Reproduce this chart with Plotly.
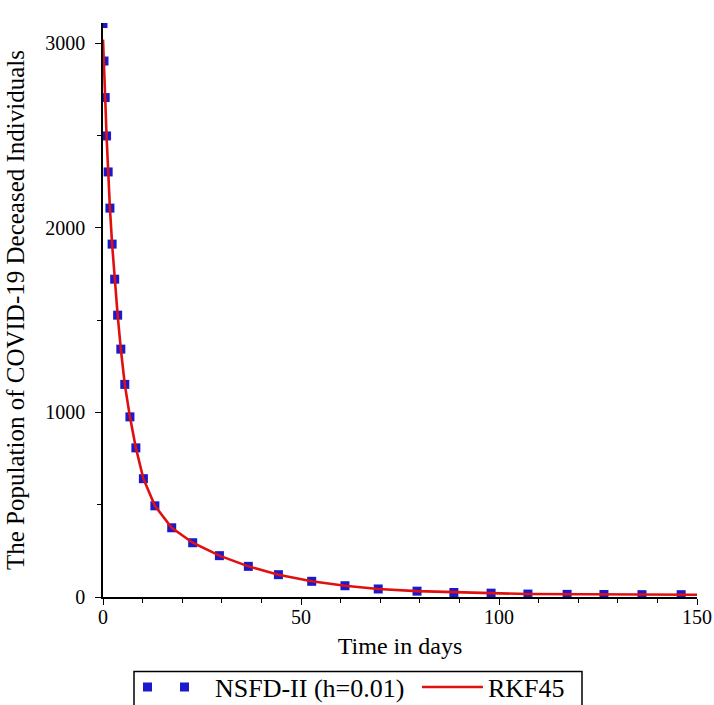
import plotly.graph_objects as go

# NSFD-II (h=0.01) square points (t in days, deceased)
nsfd_t = [0, 0.25, 0.55, 0.9, 1.3, 1.75, 2.3, 2.95, 3.7, 4.5, 5.5, 6.8, 8.3, 10.2,
          13.1, 17.35, 22.65, 29.4, 36.7, 44.3, 52.7, 61.1, 69.5, 79.3, 88.6,
          98.0, 107.3, 117.2, 126.5, 136.1, 146.0]
nsfd_v = [3107, 2904, 2706, 2498, 2303, 2107, 1912, 1722, 1527, 1343, 1152, 976, 808, 641,
          494, 375, 294, 224, 166, 121, 85, 61, 43.5, 31.6, 24.5,
          20.8, 16, 14.3, 13.7, 12.6, 12.5]

# RKF45 curve
rkf_t = [0, 0.25, 0.55, 0.9, 1.3, 1.75, 2.3, 2.95, 3.7, 4.5, 5.5, 6.8, 8.3, 10.2,
         13.1, 17.35, 22.65, 29.4, 36.7, 44.3, 52.7, 61.1, 69.5, 79.3, 88.6,
         98.0, 107.3, 117.2, 126.5, 136.1, 146.0, 150]
rkf_v = [3020, 2904, 2706, 2498, 2303, 2107, 1912, 1722, 1527, 1343, 1152, 976, 808, 641,
         494, 375, 294, 224, 166, 121, 85, 61, 43.5, 31.6, 24.5,
         20.8, 16, 14.3, 13.7, 12.6, 12.5, 12.5]

x_ticks = [0, 50, 100, 150]
y_ticks = [0, 1000, 2000, 3000]

BLUE = "#1a1acc"
RED = "#e01010"
SERIF = "Liberation Serif, Times New Roman, serif"

fig = go.Figure()
fig.add_trace(go.Scatter(
    x=nsfd_t, y=nsfd_v, mode="markers",
    marker=dict(symbol="square", size=9, color=BLUE, line=dict(width=0)),
    showlegend=False, legendgroup="nsfd"))
fig.add_trace(go.Scatter(
    x=[None], y=[None], mode="lines", name="NSFD-II (h=0.01)",
    line=dict(color=BLUE, width=9, dash="9px,28px"), legendgroup="nsfd",
    legend="legend"))
fig.add_trace(go.Scatter(
    x=rkf_t, y=rkf_v, mode="lines", name="RKF45",
    line=dict(color=RED, width=2.6), legend="legend2"))

legend_common = dict(orientation="h", xanchor="left", yanchor="top",
                     borderwidth=0, bgcolor="rgba(0,0,0,0)",
                     font=dict(family=SERIF, size=26, color="black"))

fig.update_layout(
    width=714, height=705,
    margin=dict(l=103, r=17, t=23, b=108, autoexpand=False),
    paper_bgcolor="white", plot_bgcolor="white",
    font=dict(family=SERIF, color="black", size=20),
    legend=dict(x=0.0589, y=-0.116, itemwidth=67, **legend_common),
    legend2=dict(x=0.5286, y=-0.116, itemwidth=61, **legend_common),
    shapes=[dict(type="rect", xref="paper", yref="paper",
                 x0=0.0522, x1=0.8064, y0=-0.200, y1=-0.130,
                 line=dict(color="black", width=1.5), fillcolor="rgba(0,0,0,0)")],
    xaxis=dict(range=[0, 150], tickvals=x_ticks, showline=True, linecolor="black",
               linewidth=1.5, ticks="outside", ticklen=6, tickwidth=1.2,
               tickcolor="black", showgrid=False, zeroline=False,
               tickfont=dict(size=20), ticklabelstandoff=-5,
               minor=dict(dtick=10, ticks="outside", ticklen=4, tickcolor="black",
                          tickwidth=1, showgrid=False),
               title=dict(text="Time in days", font=dict(size=24), standoff=10)),
    yaxis=dict(range=[0, 3110], tickvals=y_ticks, showline=True, linecolor="black",
               linewidth=1.5, ticks="outside", ticklen=6, tickwidth=1.2,
               tickcolor="black", showgrid=False, zeroline=False,
               tickfont=dict(size=20), ticklabelstandoff=6,
               minor=dict(dtick=500, ticks="outside", ticklen=4, tickcolor="black",
                          tickwidth=1, showgrid=False),
               title=dict(text="The Population of COVID-19 Deceased Individuals",
                          font=dict(size=25), standoff=14)),
)

fig.write_html("out.html", config={"displayModeBar": False},
               post_script="document.body.style.margin='0';document.body.style.overflow='hidden';")
